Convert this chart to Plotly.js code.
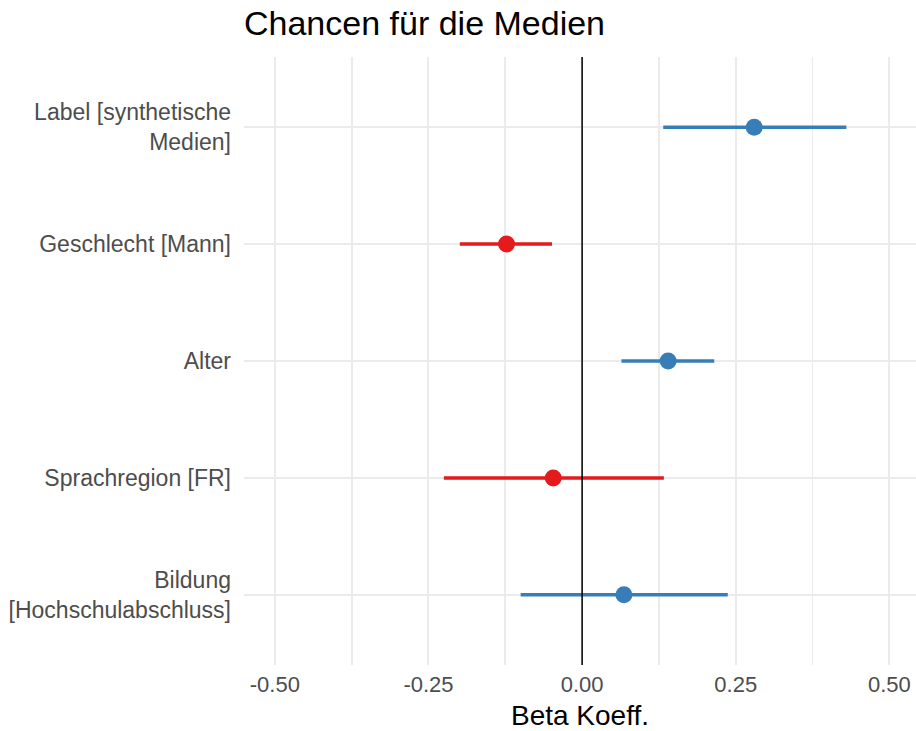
<!DOCTYPE html>
<html>
<head>
<meta charset="utf-8">
<script src="https://cdn.plot.ly/plotly-3.0.1.min.js"></script>
<style>html,body{margin:0;padding:0;background:#fff;}#chart{width:916px;height:731px;}</style>
</head>
<body>
<div id="chart"></div>
<script>
// Data
const terms = ['Label [synthetische<br>Medien]', 'Geschlecht [Mann]', 'Alter', 'Sprachregion [FR]', 'Bildung<br>[Hochschulabschluss]'];
const estimate = [0.280, -0.123, 0.140, -0.047, 0.068];
const ciLow = [0.132, -0.199, 0.064, -0.225, -0.100];
const ciHigh = [0.430, -0.049, 0.215, 0.133, 0.237];
const xTicks = [-0.5, -0.25, 0, 0.25, 0.5];
const xTickLabels = ['-0.50', '-0.25', '0.00', '0.25', '0.50'];

const BLUE = '#377EB8', RED = '#E41A1C';

function makeTrace(positive, color) {
  const x = [], y = [], plus = [], minus = [];
  for (let i = 0; i < terms.length; i++) {
    if ((estimate[i] > 0) === positive) {
      x.push(estimate[i]); y.push(terms[i]);
      plus.push(ciHigh[i] - estimate[i]); minus.push(estimate[i] - ciLow[i]);
    }
  }
  return {
    type: 'scatter', mode: 'markers', x: x, y: y,
    marker: {color: color, size: 17, line: {width: 0}},
    error_x: {type: 'data', symmetric: false, array: plus, arrayminus: minus,
              color: color, thickness: 3.5, width: 0},
    hoverinfo: 'x+y', showlegend: false
  };
}

const data = [makeTrace(true, BLUE), makeTrace(false, RED)];

const font = 'Liberation Sans, Arial, sans-serif';
const layout = {
  width: 916, height: 731,
  margin: {l: 244, r: 0, t: 57, b: 66, pad: 0},
  paper_bgcolor: '#fff', plot_bgcolor: '#fff',
  font: {family: font, color: '#4D4D4D'},
  title: {text: 'Chancen für die Medien', font: {family: font, size: 34, color: '#000'},
          x: 0, xref: 'paper', xanchor: 'left', y: 0.968, yref: 'container', yanchor: 'middle'},
  xaxis: {
    range: [-0.5502, 0.5433], tickvals: xTicks, ticktext: xTickLabels,
    showgrid: true, gridcolor: '#EBEBEB', gridwidth: 2,
    minor: {dtick: 0.125, tick0: 0, showgrid: true, gridcolor: '#EBEBEB', gridwidth: 1.8},
    zeroline: false, showline: false, ticks: '',
    tickfont: {family: font, size: 22, color: '#4D4D4D'},
    ticklabelstandoff: 4,
    title: {text: 'Beta Koeff.', font: {family: font, size: 28, color: '#000'}, standoff: 9},
    fixedrange: true
  },
  yaxis: {
    type: 'category', categoryorder: 'array', categoryarray: terms,
    range: [4.6, -0.6],
    showgrid: true, gridcolor: '#EBEBEB', gridwidth: 2.5,
    zeroline: false, showline: false, ticks: '',
    tickfont: {family: font, size: 23, color: '#4D4D4D'},
    ticklabelstandoff: 12,
    fixedrange: true
  },
  shapes: [{type: 'line', xref: 'x', yref: 'paper', x0: 0, x1: 0, y0: 0, y1: 1,
            line: {color: '#000', width: 1.5}, layer: 'above'}]
};

Plotly.newPlot('chart', data, layout, {displayModeBar: false, staticPlot: true});
</script>
</body>
</html>
